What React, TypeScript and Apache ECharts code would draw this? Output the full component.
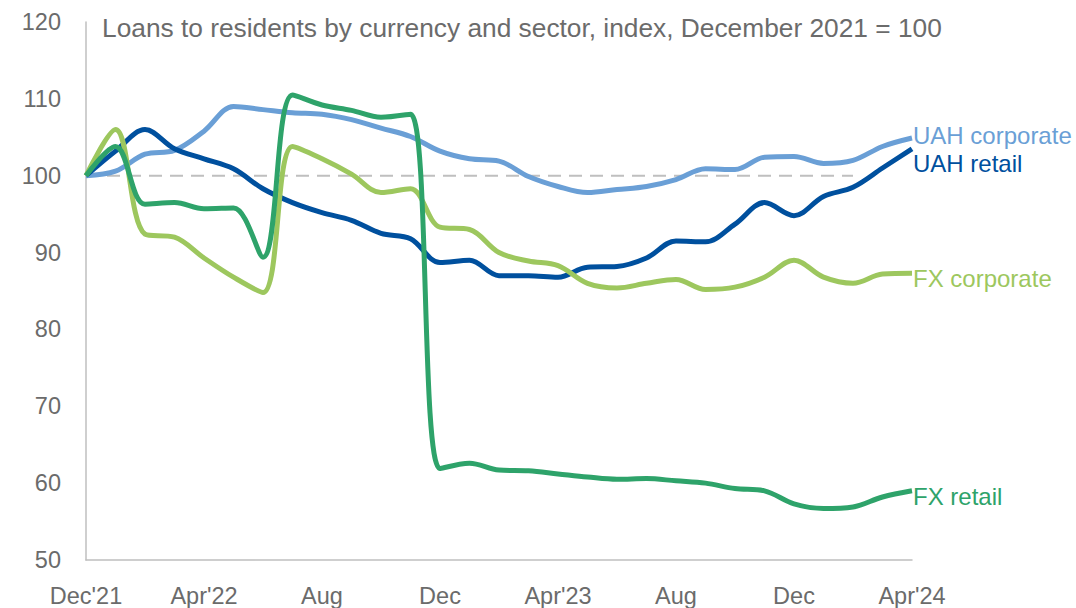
import React, { useEffect, useRef } from "react";
import * as echarts from "echarts";

const months: string[] = [
  "Dec'21", "Jan'22", "Feb'22", "Mar'22", "Apr'22", "May'22", "Jun'22", "Jul'22", "Aug'22",
  "Sep'22", "Oct'22", "Nov'22", "Dec'22", "Jan'23", "Feb'23", "Mar'23", "Apr'23", "May'23",
  "Jun'23", "Jul'23", "Aug'23", "Sep'23", "Oct'23", "Nov'23", "Dec'23", "Jan'24", "Feb'24",
  "Mar'24", "Apr'24",
];
const tickLabels: string[] = ["Dec'21", "Apr'22", "Aug", "Dec", "Apr'23", "Aug", "Dec", "Apr'24"];

const uahCorporate: number[] = [
  100, 100.6, 102.8, 103.3, 105.8, 109.0, 108.6, 108.2, 108.0, 107.3, 106.2, 105.1, 103.2, 102.2,
  101.9, 99.9, 98.6, 97.8, 98.2, 98.6, 99.5, 100.9, 100.8, 102.4, 102.5, 101.6, 102.0, 103.8, 104.9,
];
const uahRetail: number[] = [
  100, 103.2, 106.0, 103.5, 102.2, 100.9, 98.3, 96.5, 95.2, 94.2, 92.5, 91.8, 88.7, 89.0, 87.0,
  87.0, 86.8, 88.1, 88.2, 89.3, 91.5, 91.4, 93.7, 96.5, 94.8, 97.3, 98.5, 101.0, 103.5,
];
const fxCorporate: number[] = [
  100, 106.0, 92.4, 92.0, 89.3, 86.8, 84.8, 103.8, 102.2, 100.2, 97.8, 98.3, 93.3, 93.0, 90.0,
  88.9, 88.3, 86.0, 85.4, 86.0, 86.5, 85.2, 85.5, 86.8, 89.0, 86.8, 86.0, 87.2, 87.3,
];
const fxRetail: number[] = [
  100, 103.8, 96.3, 96.5, 95.7, 95.8, 89.4, 110.5, 109.2, 108.5, 107.6, 108.0, 61.9, 62.6, 61.7,
  61.6, 61.2, 60.8, 60.5, 60.6, 60.3, 60.0, 59.3, 59.0, 57.3, 56.7, 56.9, 58.2, 59.0,
];
const baseline: (number | null)[] = [
  100, 100, 100, 100, 100, 100, 100, 100, 100, 100, 100, 100, 100, 100, 100, 100, 100, 100, 100,
  100, 100, 100, 100, 100, 100, 100, 100, null, null,
];

const FONT = "Liberation Sans";
const GREY = "#6b6b6b";

export default function App() {
  const ref = useRef<HTMLDivElement>(null);
  useEffect(() => {
    if (!ref.current) return;
    const chart = echarts.init(ref.current, undefined, { renderer: "svg" });
    const line = (name: string, data: number[], color: string, dy: number) => ({
      name,
      type: "line",
      data,
      smooth: 0.35,
      symbol: "none",
      lineStyle: { color, width: 5 },
      endLabel: {
        show: true,
        formatter: name,
        color,
        fontSize: 24,
        fontFamily: FONT,
        distance: 1,
        offset: [0, dy],
      },
      z: 3,
    });
    chart.setOption({
      animation: false,
      backgroundColor: "#ffffff",
      title: {
        text: "Loans to residents by currency and sector, index, December 2021 = 100",
        left: 97,
        top: 10,
        textStyle: { color: GREY, fontSize: 26.3, fontWeight: "normal", fontFamily: FONT },
      },
      grid: { left: 86, right: 164, top: 22, bottom: 48, containLabel: false },
      xAxis: {
        type: "category",
        data: months,
        boundaryGap: false,
        axisLine: { show: true, lineStyle: { color: "#bfbfbf", width: 1.5 } },
        axisTick: { show: false },
        axisLabel: {
          interval: 3,
          margin: 24,
          color: GREY,
          fontSize: 23.5,
          fontFamily: FONT,
          formatter: (_v: string, i: number) => tickLabels[Math.round(i / 4)] ?? "",
        },
        splitLine: { show: false },
      },
      yAxis: {
        type: "value",
        min: 50,
        max: 120,
        interval: 10,
        axisLine: { show: true, lineStyle: { color: "#bfbfbf", width: 1.5 } },
        axisTick: { show: false },
        axisLabel: { margin: 25, color: GREY, fontSize: 23.5, fontFamily: FONT },
        splitLine: { show: false },
      },
      series: [
        {
          name: "base",
          type: "line",
          data: baseline,
          symbol: "none",
          silent: true,
          lineStyle: { color: "#bfbfbf", width: 2, type: [13, 8] },
          z: 2,
        },
        line("UAH corporate", uahCorporate, "#6a9fd6", -3),
        line("UAH retail", uahRetail, "#00509e", 15),
        line("FX corporate", fxCorporate, "#9dc75e", 5),
        line("FX retail", fxRetail, "#2ea36a", 6),
      ],
    });
    return () => chart.dispose();
  }, []);
  return (
    <div
      ref={ref}
      style={{ position: "absolute", left: 0, top: 0, width: 1076, height: 608 }}
    />
  );
}
